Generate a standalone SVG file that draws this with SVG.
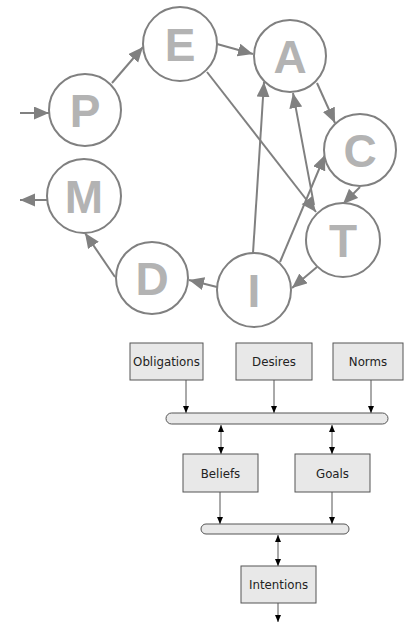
<svg xmlns="http://www.w3.org/2000/svg" width="404" height="626" viewBox="0 0 404 626">
  <style>
    .state circle { fill: #ffffff; stroke: #808080; stroke-width: 2; }
    .state text { font-family: "Liberation Sans", Arial, sans-serif; font-weight: bold; font-size: 46px; fill: #b3b3b3; text-anchor: middle; }
    .flow line { stroke: #808080; stroke-width: 2; marker-end: url(#gray-arrow); }
    .box rect { fill: #e8e8e8; stroke: #555555; stroke-width: 1; }
    .box text { font-family: "DejaVu Sans", "Liberation Sans", sans-serif; font-size: 11.8px; fill: #222222; text-anchor: middle; }
    .bar rect { fill: #e8e8e8; stroke: #555555; stroke-width: 1; }
    .links line { stroke: #555555; stroke-width: 1; }
    .one line { marker-end: url(#black-arrow); }
    .two line { marker-end: url(#black-arrow); marker-start: url(#black-arrow); }
  </style>
  <defs>
    <marker id="gray-arrow" markerUnits="userSpaceOnUse" markerWidth="16" markerHeight="14" refX="15" refY="6.5" orient="auto-start-reverse">
      <path d="M0,0 L15,6.5 L0,13 z" fill="#808080"/>
    </marker>
    <marker id="black-arrow" markerUnits="userSpaceOnUse" markerWidth="8" markerHeight="7" refX="7" refY="3" orient="auto-start-reverse">
      <path d="M0,0 L7,3 L0,6 z" fill="#000000"/>
    </marker>
  </defs>

  <!-- state cycle connectors -->
  <g id="cycle-connectors" class="flow">
    <line x1="20" y1="113" x2="49" y2="113"/>
    <line x1="112" y1="83" x2="143" y2="47"/>
    <line x1="217" y1="44" x2="253" y2="54"/>
    <line x1="317" y1="83" x2="335" y2="123"/>
    <line x1="360" y1="187" x2="343" y2="204"/>
    <line x1="207" y1="72" x2="316" y2="212"/>
    <line x1="314" y1="205" x2="293" y2="93"/>
    <line x1="253" y1="253" x2="264" y2="82"/>
    <line x1="280" y1="262" x2="325" y2="155"/>
    <line x1="317" y1="267" x2="292" y2="288"/>
    <line x1="217" y1="287" x2="189" y2="280"/>
    <line x1="115" y1="277" x2="85" y2="233"/>
    <line x1="48" y1="200" x2="20" y2="200"/>
  </g>

  <!-- states -->
  <g id="node-P" class="state"><circle cx="85" cy="110" r="36"/><text x="85" y="127">P</text></g>
  <g id="node-E" class="state"><circle cx="180" cy="44" r="37"/><text x="180" y="61">E</text></g>
  <g id="node-A" class="state"><circle cx="290" cy="56" r="36"/><text x="290" y="73">A</text></g>
  <g id="node-C" class="state"><circle cx="360" cy="150" r="36"/><text x="360" y="167">C</text></g>
  <g id="node-T" class="state"><circle cx="343" cy="240" r="37"/><text x="343" y="257">T</text></g>
  <g id="node-I" class="state"><circle cx="254" cy="290" r="37"/><text x="254" y="307">I</text></g>
  <g id="node-D" class="state"><circle cx="152" cy="278" r="36"/><text x="152" y="295">D</text></g>
  <g id="node-M" class="state"><circle cx="84" cy="196" r="37"/><text x="84" y="213">M</text></g>

  <!-- attitude hierarchy connectors -->
  <g id="hierarchy-connectors" class="links">
    <g class="one">
      <line x1="186" y1="380" x2="186" y2="413"/>
      <line x1="274" y1="380" x2="274" y2="413"/>
      <line x1="371" y1="380" x2="371" y2="413"/>
      <line x1="220" y1="492" x2="220" y2="524"/>
      <line x1="332" y1="492" x2="332" y2="524"/>
      <line x1="278" y1="603" x2="278" y2="622"/>
    </g>
    <g class="two">
      <line x1="221" y1="425" x2="221" y2="454"/>
      <line x1="332" y1="425" x2="332" y2="454"/>
      <line x1="278" y1="535" x2="278" y2="566"/>
    </g>
  </g>

  <!-- combination bars -->
  <g id="bar-upper" class="bar"><rect x="166" y="413" width="222" height="11" rx="5.5"/></g>
  <g id="bar-lower" class="bar"><rect x="201" y="524" width="148" height="10" rx="5"/></g>

  <!-- attitude boxes -->
  <g id="box-obligations" class="box"><rect x="130" y="343" width="73" height="37"/><text x="166.5" y="366">Obligations</text></g>
  <g id="box-desires" class="box"><rect x="236" y="343" width="76" height="37"/><text x="274" y="366">Desires</text></g>
  <g id="box-norms" class="box"><rect x="333" y="343" width="70" height="37"/><text x="368" y="366">Norms</text></g>
  <g id="box-beliefs" class="box"><rect x="183" y="454" width="75" height="38"/><text x="220.5" y="477.5">Beliefs</text></g>
  <g id="box-goals" class="box"><rect x="295" y="454" width="75" height="38"/><text x="332.5" y="477.5">Goals</text></g>
  <g id="box-intentions" class="box"><rect x="241" y="566" width="75" height="37"/><text x="278.5" y="589">Intentions</text></g>
</svg>
